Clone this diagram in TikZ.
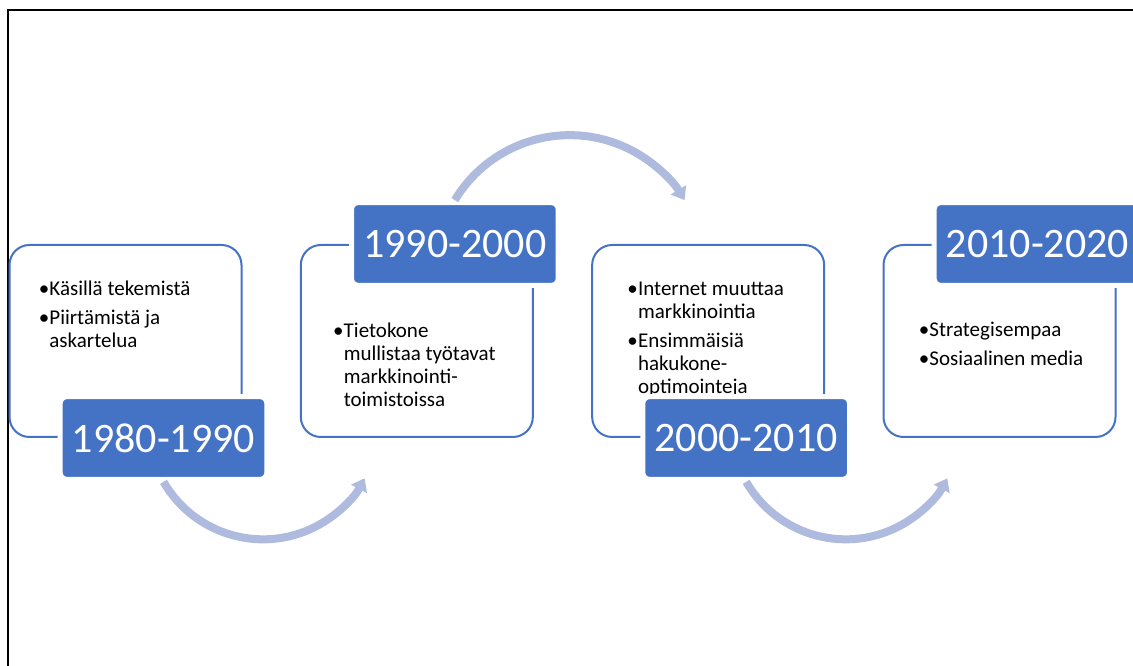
\documentclass[tikz,border=0pt]{standalone}
\usepackage{fontspec}
\setmainfont{Carlito}
\usepackage{xcolor}
\usetikzlibrary{positioning,calc,arrows.meta}
\definecolor{accent}{HTML}{4472C4}
\definecolor{flowblue}{RGB}{174,187,222}
\newcommand{\bul}{\makebox[8pt][l]{\textbullet}}
\newcommand{\ind}{\hspace*{8pt}}

\begin{document}
\begin{tikzpicture}[x=0.75pt,y=0.75pt,
  box/.style={draw=accent,line width=1.5pt,rounded corners=15pt,minimum width=174pt,minimum height=144pt},
  yearbox/.style={fill=accent,draw=white,line width=3.75pt,rounded corners=5pt,minimum width=155pt,minimum height=62pt,inner sep=0pt,text=white,font=\fontsize{31.5pt}{36pt}\selectfont},
  txt/.style={anchor=north west,inner sep=0pt,align=left,font=\fontsize{15.75pt}{17.25pt}\selectfont},
  flow/.style={draw=flowblue,line width=6pt,-{Triangle[length=9pt,width=13pt]}}]
  \useasboundingbox (0,0) rectangle (1133,666);
  \clip (0,0) rectangle (1133,666);
  \draw[line width=1.5pt] (8,-20) rectangle (1160,656);
  % period boxes
  \node[box] (b1) at (125.5,325) {};
  \node[box,right=43pt of b1] (b2) {};
  \node[box,right=43pt of b2] (b3) {};
  \node[box,right=43pt of b3] (b4) {};
  \node[txt] (t1) at ($(b1.north west)+(30,-37)$) {\bul Käsillä tekemistä\\[4pt] \bul Piirtämistä ja\\ \ind askartelua};
  \node[txt] (t2) at ($(b2.north west)+(33,-79)$) {\bul Tietokone\\ \ind mullistaa työtavat\\ \ind markkinointi-\\ \ind toimistoissa};
  \node[txt] (t3) at ($(b3.north west)+(36,-38)$) {\bul Internet muuttaa\\ \ind markkinointia\\[4pt] \bul Ensimmäisiä\\ \ind hakukone-\\ \ind optimointeja};
  \node[txt] (t4) at ($(b4.north west)+(36,-78)$) {\bul Strategisempaa\\[4pt] \bul Sosiaalinen media};
  % year labels over the box outlines
  \node[yearbox] (l1) at ($(b1.south west)+(155,0)$) {1980-1990};
  \node[yearbox] (l2) at ($(b2.north west)+(155,0)$) {1990-2000};
  \node[yearbox] (l3) at ($(b3.south west)+(155,0)$) {2000-2010};
  \node[yearbox] (l4) at ($(b4.north west)+(155,0)$) {2010-2020};
  \draw[flow] (l1.south) arc[start angle=210,end angle=332,radius=115];
  \draw[flow] (l2.north) arc[start angle=149,end angle=31,radius=134];
  \draw[flow] (l3.south) arc[start angle=210,end angle=332,radius=115];
\end{tikzpicture}
\end{document}
